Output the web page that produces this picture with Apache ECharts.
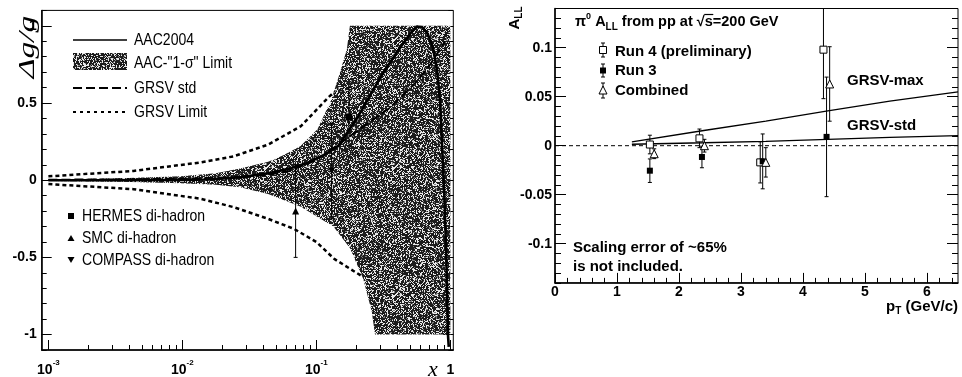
<!DOCTYPE html>
<html><head><meta charset="utf-8">
<script src="https://cdn.jsdelivr.net/npm/echarts@6/dist/echarts.min.js"></script>
<style>html,body{margin:0;padding:0;background:#fff}#c{width:962px;height:377px}</style>
</head><body><div id="c"></div>
<script>
// ================= LEFT PANEL: Δg/g versus x (log x) =================
// AAC2004 best fit (solid)
const aacX = [0.001, 0.00316, 0.01, 0.0158, 0.0275, 0.0437, 0.0631, 0.0871, 0.112, 0.145, 0.204, 0.302, 0.40, 0.457, 0.513, 0.562, 0.617, 0.676, 0.741, 0.794, 0.841, 0.880, 0.902, 0.933, 0.960, 0.973];
const aacY = [0, 0, 0.002, 0.005, 0.02, 0.045, 0.075, 0.115, 0.16, 0.22, 0.41, 0.67, 0.83, 0.9, 0.96, 0.995, 0.99, 0.95, 0.86, 0.72, 0.5, 0.1, -0.1, -0.5, -1.0, -1.08];
// AAC "1-sigma" band
const bandUpX = [0.001, 0.00347, 0.00977, 0.0178, 0.027, 0.0437, 0.0562, 0.0759, 0.102, 0.129, 0.148, 0.169, 0.178, 1.0];
const bandUpY = [0.005, 0.012, 0.025, 0.045, 0.075, 0.12, 0.16, 0.22, 0.33, 0.52, 0.68, 0.85, 1.0, 1.0];
const bandLoX = [0.001, 0.00347, 0.00977, 0.0178, 0.027, 0.0437, 0.0759, 0.134, 0.178, 0.224, 0.259, 0.274, 1.0];
const bandLoY = [-0.005, -0.01, -0.02, -0.03, -0.045, -0.09, -0.17, -0.3, -0.44, -0.64, -0.85, -1.0, -1.0];
// GRSV std (long dash)
const grsvStdX = [0.001, 0.00316, 0.01, 0.0251, 0.0437, 0.0631, 0.1, 0.151, 0.243, 0.355, 0.562, 0.708, 0.912];
const grsvStdY = [0.003, 0.005, 0.01, 0.02, 0.035, 0.06, 0.13, 0.24, 0.37, 0.47, 0.64, 0.75, 0.9];
// GRSV limits (short dash)
const grsvLimUpX = [0.001, 0.00432, 0.0137, 0.0242, 0.0435, 0.0767, 0.124, 0.136];
const grsvLimUpY = [0.025, 0.06, 0.115, 0.155, 0.23, 0.35, 0.54, 0.57];
const grsvLimLoX = [0.001, 0.00432, 0.0137, 0.0242, 0.0435, 0.068, 0.1, 0.136, 0.217];
const grsvLimLoY = [-0.025, -0.058, -0.12, -0.175, -0.25, -0.315, -0.4, -0.51, -0.62];
// di-hadron data points
const hermesX = [0.175], hermesY = [0.41], hermesErr = [0.19];
const smcX = [0.07],     smcY = [-0.20],   smcErr = [0.30];
const compassX = [0.13], compassY = [0.06], compassErr = [0.31];
// tick labels
const leftXTickLog = [-3, -2, -1, 0];
const leftXTickText = ['10|-3', '10|-2', '10|-1', '1'];
const leftYTicks = [-1, -0.5, 0, 0.5, 1];

// ================= RIGHT PANEL: pi0 A_LL vs pT =================
const run4X = [1.53, 2.33, 3.31, 4.33];
const run4Y = [0.0012, 0.0075, -0.017, 0.098];
const run4Err = [0.0095, 0.0095, 0.021, 0.05];
const run3X = [1.53, 2.37, 3.35, 4.38];
const run3Y = [-0.0255, -0.0115, -0.016, 0.009];
const run3Err = [0.012, 0.011, 0.028, 0.061];
const combX = [1.60, 2.41, 3.40, 4.43];
const combY = [-0.0082, 0.0, -0.017, 0.063];
const combErr = [0.005, 0.0065, 0.015, 0.038];
const grsvMaxX = [1.24, 2.4, 3.4, 4.4, 5.4, 6.5];
const grsvMaxY = [0.004, 0.0155, 0.025, 0.0355, 0.0455, 0.055];
const grsvStdRX = [1.24, 2.4, 3.4, 4.4, 5.4, 6.5];
const grsvStdRY = [0.0015, 0.003, 0.0045, 0.0065, 0.0085, 0.0102];
const zeroLineX = [0, 6.5];
const zeroLineY = [0, 0];
const rightXTicks = [0, 1, 2, 3, 4, 5, 6];
const rightYTicks = [-0.1, -0.05, 0, 0.05, 0.1];

// ---------- helpers ----------
const L = v => Math.log10(v);
const pairsLog = (xs, ys) => xs.map((x, i) => [L(x), ys[i]]);
const pairs = (xs, ys) => xs.map((x, i) => [x, ys[i]]);
const errData = (xs, ys, es, lg) => xs.map((x, i) => [lg ? L(x) : x, ys[i] - es[i], ys[i] + es[i]]);
function range(a, b, s) { const out = []; for (let v = a; v <= b + s / 2; v += s) out.push(Math.round(v * 1e6) / 1e6); return out; }

const leftXMinor = [];
for (let n = -3; n <= -1; n++) for (let k = 2; k <= 9; k++) leftXMinor.push(n + Math.log10(k));
const leftYMinor = range(-1.1, 1.1, 0.1);
const rightXMinor = range(0, 6.4, 0.2);
const rightYMinor = range(-0.14, 0.14, 0.01);

const FONT = '"Liberation Sans", Arial, Helvetica, sans-serif';
const BLACK = '#000';

// grainy texture for the 1-sigma band (deterministic murmur-style hash, purely decorative)
function mix(h) {
  h ^= h >>> 16; h = Math.imul(h, 0x85ebca6b);
  h ^= h >>> 13; h = Math.imul(h, 0xc2b2ae35);
  h ^= h >>> 16; return h >>> 0;
}
function makeGrain() {
  const N = 128;
  const c = document.createElement('canvas'); c.width = N; c.height = N;
  const g = c.getContext('2d'); const img = g.createImageData(N, N);
  for (let y = 0; y < N; y++) for (let x = 0; x < N; x++) {
    const u = mix(mix(x * 2654435761 + 12345) ^ (y * 40503 + 977)) / 4294967296;
    const v = u > 0.73 ? 232 : (u > 0.63 ? 125 : 28);
    const i = (y * N + x) * 4; img.data[i] = img.data[i + 1] = img.data[i + 2] = v; img.data[i + 3] = 255;
  }
  g.putImageData(img, 0, 0); return c;
}
const GRAIN = { image: makeGrain(), repeat: 'repeat' };

function tickAxis(opts) {
  const o = {
    type: 'value', gridIndex: opts.grid, min: opts.min, max: opts.max, position: opts.pos,
    axisLine: { show: !!opts.line, onZero: false, lineStyle: { color: BLACK, width: 1.5 } },
    axisTick: { show: true, inside: true, length: opts.len, customValues: opts.ticks, lineStyle: { color: BLACK, width: 1 } },
    axisLabel: { show: false },
    splitLine: { show: false }, minorTick: { show: false }, minorSplitLine: { show: false },
    axisPointer: { show: false }, silent: true
  };
  if (opts.labels) {
    o.axisLabel = Object.assign({ show: true, customValues: opts.labels, color: BLACK, fontFamily: FONT, fontWeight: 'bold', fontSize: 14 }, opts.labelOpt || {});
  }
  return o;
}

function errRender(cap) {
  return function (params, api) {
    const x = api.value(0), lo = api.value(1), hi = api.value(2);
    const cs = params.coordSys;
    const p1 = api.coord([x, hi]), p2 = api.coord([x, lo]);
    const top = cs.y, bot = cs.y + cs.height;
    const c1 = p1[1] < top, c2 = p2[1] > bot;
    p1[1] = Math.max(top, Math.min(bot, p1[1]));
    p2[1] = Math.max(top, Math.min(bot, p2[1]));
    const st = { stroke: BLACK, lineWidth: 1 };
    const ch = [{ type: 'line', shape: { x1: p1[0], y1: p1[1], x2: p2[0], y2: p2[1] }, style: st }];
    if (cap > 0) {
      if (!c1) ch.push({ type: 'line', shape: { x1: p1[0] - cap, y1: p1[1], x2: p1[0] + cap, y2: p1[1] }, style: st });
      if (!c2) ch.push({ type: 'line', shape: { x1: p2[0] - cap, y1: p2[1], x2: p2[0] + cap, y2: p2[1] }, style: st });
    }
    return { type: 'group', children: ch };
  };
}

// grids
const G0 = { left: 41.7, top: 10.4, width: 411.6, height: 343.2 };
const G1 = { left: 555, top: 8.5, width: 403, height: 274.4 };

const xAxes = [
  tickAxis({ grid: 0, min: -3.05, max: 0.022, pos: 'bottom', line: true, len: 10, ticks: leftXTickLog, labels: leftXTickLog,
    labelOpt: { margin: 9, formatter: v => {
      const i = leftXTickLog.findIndex(t => Math.abs(t - v) < 1e-6);
      const t = leftXTickText[i] || '';
      if (t.indexOf('|') >= 0) { const p = t.split('|'); return '{b|' + p[0] + '}{s|' + p[1] + '}'; }
      return '{b|' + t + '}';
    }, rich: {
      b: { fontFamily: FONT, fontWeight: 'bold', fontSize: 14, lineHeight: 18, verticalAlign: 'bottom', color: BLACK },
      s: { fontFamily: FONT, fontWeight: 'bold', fontSize: 8, lineHeight: 8, verticalAlign: 'top', color: BLACK }
    } } }),
  tickAxis({ grid: 0, min: -3.05, max: 0.022, pos: 'bottom', len: 5, ticks: leftXMinor }),
  tickAxis({ grid: 1, min: 0, max: 6.5, pos: 'bottom', line: true, len: 10, ticks: rightXTicks, labels: rightXTicks, labelOpt: { margin: 2 } }),
  tickAxis({ grid: 1, min: 0, max: 6.5, pos: 'bottom', len: 5, ticks: rightXMinor })
];
const yAxes = [
  tickAxis({ grid: 0, min: -1.1, max: 1.1, pos: 'left', line: true, len: 10, ticks: leftYTicks, labels: leftYTicks, labelOpt: { margin: 5 } }),
  tickAxis({ grid: 0, min: -1.1, max: 1.1, pos: 'left', len: 5, ticks: leftYMinor }),
  tickAxis({ grid: 0, min: -1.1, max: 1.1, pos: 'right', len: 10, ticks: leftYTicks }),
  tickAxis({ grid: 0, min: -1.1, max: 1.1, pos: 'right', len: 5, ticks: leftYMinor }),
  tickAxis({ grid: 1, min: -0.14, max: 0.14, pos: 'left', line: true, len: 11, ticks: rightYTicks, labels: rightYTicks, labelOpt: { margin: 3 } }),
  tickAxis({ grid: 1, min: -0.14, max: 0.14, pos: 'left', len: 6, ticks: rightYMinor }),
  tickAxis({ grid: 1, min: -0.14, max: 0.14, pos: 'right', len: 11, ticks: rightYTicks }),
  tickAxis({ grid: 1, min: -0.14, max: 0.14, pos: 'right', len: 6, ticks: rightYMinor })
];

const lineS = (name, data, xi, yi, style, z) => ({
  name, type: 'line', xAxisIndex: xi, yAxisIndex: yi, data, symbol: 'none', smooth: false, z, silent: true,
  lineStyle: Object.assign({ color: BLACK }, style), clip: true
});
const scatterS = (name, data, xi, yi, symbol, size, fill, rot, z) => ({
  name, type: 'scatter', xAxisIndex: xi, yAxisIndex: yi, data, symbol, symbolSize: size, symbolRotate: rot || 0, z, silent: true,
  itemStyle: { color: fill, borderColor: BLACK, borderWidth: fill === BLACK ? 0 : 1, opacity: 1 }
});

const series = [
  // left panel
  lineS('GRSV Limit up', pairsLog(grsvLimUpX, grsvLimUpY), 0, 0, { width: 2.5, type: [4, 3] }, 2),
  lineS('GRSV Limit lo', pairsLog(grsvLimLoX, grsvLimLoY), 0, 0, { width: 2.5, type: [4, 3] }, 2),
  { name: 'AAC band', type: 'custom', xAxisIndex: 0, yAxisIndex: 0, z: 3, silent: true, data: [[-1, 0]],
    renderItem: (params, api) => {
      const pts = [];
      for (let i = 0; i < bandUpX.length; i++) pts.push(api.coord([L(bandUpX[i]), bandUpY[i]]));
      for (let i = bandLoX.length - 1; i >= 0; i--) pts.push(api.coord([L(bandLoX[i]), bandLoY[i]]));
      return { type: 'polygon', shape: { points: pts }, style: { fill: GRAIN } };
    } },
  lineS('GRSV std', pairsLog(grsvStdX, grsvStdY), 0, 0, { width: 2, type: [9, 4] }, 4),
  lineS('AAC2004', pairsLog(aacX, aacY), 0, 0, { width: 2.6 }, 5),
  { name: 'err left', type: 'custom', xAxisIndex: 0, yAxisIndex: 0, z: 6, silent: true,
    data: errData(hermesX, hermesY, hermesErr, true).concat(errData(smcX, smcY, smcErr, true), errData(compassX, compassY, compassErr, true)),
    renderItem: errRender(2) },
  scatterS('HERMES', pairsLog(hermesX, hermesY), 0, 0, 'rect', 7, BLACK, 0, 7),
  scatterS('SMC', pairsLog(smcX, smcY), 0, 0, 'triangle', 7, BLACK, 0, 7),
  scatterS('COMPASS', pairsLog(compassX, compassY), 0, 0, 'triangle', 7, BLACK, 180, 7),
  // right panel
  lineS('zero', pairs(zeroLineX, zeroLineY), 2, 4, { width: 1, type: [4, 3] }, 2),
  lineS('GRSV-max', pairs(grsvMaxX, grsvMaxY), 2, 4, { width: 1.3 }, 3),
  lineS('GRSV-std', pairs(grsvStdRX, grsvStdRY), 2, 4, { width: 1.3 }, 3),
  { name: 'err right', type: 'custom', xAxisIndex: 2, yAxisIndex: 4, z: 5, silent: true,
    data: errData(run4X, run4Y, run4Err).concat(errData(run3X, run3Y, run3Err), errData(combX, combY, combErr)),
    renderItem: errRender(2) },
  scatterS('Run 4 (preliminary)', pairs(run4X, run4Y), 2, 4, 'rect', 7, '#fff', 0, 6),
  scatterS('Run 3', pairs(run3X, run3Y), 2, 4, 'rect', 6, BLACK, 0, 6),
  scatterS('Combined', pairs(combX, combY), 2, 4, 'triangle', 8, '#fff', 0, 6)
];

// ---------- text / legend graphics ----------
const txt = (x, y, text, o, extra) => Object.assign({ type: 'text', x, y, silent: true, z: 100,
  style: Object.assign({ text, fill: BLACK, font: 'bold 15px ' + FONT, align: 'left', verticalAlign: 'middle' }, o || {}) }, extra || {});
const narrow = (x, y, text) => txt(x, y, text, { font: '17px ' + FONT }, { scaleX: 0.825 });
const gl = (x1, y1, x2, y2, st) => ({ type: 'line', silent: true, z: 100, shape: { x1, y1, x2, y2 }, style: Object.assign({ stroke: BLACK, lineWidth: 1 }, st || {}) });
const errIcon = (x, y, h) => [gl(x, y - h, x, y + h), gl(x - 2, y - h, x + 2, y - h), gl(x - 2, y + h, x + 2, y + h)];

// position of the overline over "s" in the title
const mctx = document.createElement('canvas').getContext('2d');
const tw = (font, s) => { mctx.font = font; return mctx.measureText(s).width; };
const TN = 'bold 14.5px ' + FONT, TP = 'bold 9px ' + FONT, TD = 'bold 10px ' + FONT;
const preW = tw(TN, 'π') + tw(TP, '0') + tw(TN, ' A') + tw(TD, 'LL') + tw(TN, ' from pp at √');
const sW = tw(TN, 's');

const graphics = [
  // left axis titles
  { type: 'text', x: 28, y: 47, rotation: Math.PI / 2, scaleX: 1.4, silent: true, z: 100,
    style: { text: 'Δg/g', fill: BLACK, font: 'italic 24px "Liberation Serif", "Times New Roman", serif', align: 'center', verticalAlign: 'middle' } },
  txt(433, 370, 'x', { font: 'italic 22px "Liberation Serif", "Times New Roman", serif', align: 'center' }),
  // left legend (upper)
  gl(73, 40, 127, 40, { lineWidth: 1.5 }),
  { type: 'rect', silent: true, z: 100, shape: { x: 73, y: 53, width: 54, height: 17 }, style: { fill: GRAIN } },
  gl(73, 88, 127, 88, { lineWidth: 2, lineDash: [9, 4] }),
  gl(73, 112, 127, 112, { lineWidth: 2, lineDash: [3, 4] }),
  narrow(134, 40, 'AAC2004'),
  narrow(134, 63, 'AAC-"1-σ" Limit'),
  narrow(134, 88, 'GRSV std'),
  narrow(134, 112, 'GRSV Limit'),
  // left legend (lower)
  { type: 'rect', silent: true, z: 100, shape: { x: 68, y: 213, width: 6, height: 6 }, style: { fill: BLACK } },
  { type: 'polygon', silent: true, z: 100, shape: { points: [[71, 235], [74.5, 241], [67.5, 241]] }, style: { fill: BLACK } },
  { type: 'polygon', silent: true, z: 100, shape: { points: [[67.5, 257], [74.5, 257], [71, 263]] }, style: { fill: BLACK } },
  narrow(82, 216, 'HERMES di-hadron'),
  narrow(82, 238, 'SMC di-hadron'),
  narrow(82, 260, 'COMPASS di-hadron'),

  // right panel title
  { type: 'text', x: 575, y: 22, silent: true, z: 100,
    style: { text: '{n|π}{p|0}{n| A}{d|LL}{n| from pp at √s=200 GeV}', align: 'left', verticalAlign: 'middle', fill: BLACK,
      rich: {
        n: { font: TN, lineHeight: 20, verticalAlign: 'middle', fill: BLACK },
        p: { font: TP, lineHeight: 9, verticalAlign: 'top', fill: BLACK },
        d: { font: TD, lineHeight: 10, verticalAlign: 'bottom', fill: BLACK }
      } } },
  gl(575 + preW - 0.5, 14.5, 575 + preW + sW + 0.5, 14.5, { lineWidth: 1.2 }),
  // right legend
  ...errIcon(603, 50, 7),
  { type: 'rect', silent: true, z: 101, shape: { x: 599.5, y: 46.5, width: 7, height: 7 }, style: { fill: '#fff', stroke: BLACK, lineWidth: 1 } },
  ...errIcon(603, 70.5, 6.5),
  { type: 'rect', silent: true, z: 101, shape: { x: 600, y: 67.5, width: 6, height: 6 }, style: { fill: BLACK } },
  ...errIcon(603, 90.5, 7.5),
  { type: 'polygon', silent: true, z: 101, shape: { points: [[603, 86], [607, 94], [599, 94]] }, style: { fill: '#fff', stroke: BLACK, lineWidth: 1 } },
  txt(615, 52, 'Run 4 (preliminary)'),
  txt(615, 71, 'Run 3'),
  txt(615, 91, 'Combined'),
  txt(847, 81, 'GRSV-max'),
  txt(847, 126, 'GRSV-std'),
  txt(573, 248, 'Scaling error of ~65%'),
  txt(573, 267, 'is not included.'),
  // right axis titles
  { type: 'text', x: 515, y: 18, rotation: Math.PI / 2, silent: true, z: 100,
    style: { text: '{n|A}{d|LL}', align: 'center', verticalAlign: 'middle', fill: BLACK,
      rich: {
        n: { font: 'bold 15px ' + FONT, lineHeight: 18, verticalAlign: 'middle', fill: BLACK },
        d: { font: 'bold 10px ' + FONT, lineHeight: 10, verticalAlign: 'bottom', fill: BLACK }
      } } },
  { type: 'text', x: 958, y: 307, silent: true, z: 100,
    style: { text: '{n|p}{d|T}{n| (GeV/c)}', align: 'right', verticalAlign: 'middle', fill: BLACK,
      rich: {
        n: { font: 'bold 15px ' + FONT, lineHeight: 18, verticalAlign: 'middle', fill: BLACK },
        d: { font: 'bold 10px ' + FONT, lineHeight: 10, verticalAlign: 'bottom', fill: BLACK }
      } } }
];

const chart = echarts.init(document.getElementById('c'), null, { renderer: 'canvas', width: 962, height: 377 });
chart.setOption({
  animation: false,
  backgroundColor: '#fff',
  grid: [
    Object.assign({ show: true, borderColor: BLACK, borderWidth: 1, backgroundColor: 'transparent', containLabel: false }, G0),
    Object.assign({ show: true, borderColor: BLACK, borderWidth: 1, backgroundColor: 'transparent', containLabel: false }, G1)
  ],
  xAxis: xAxes,
  yAxis: yAxes,
  series,
  graphic: graphics
});
</script>
</body></html>
